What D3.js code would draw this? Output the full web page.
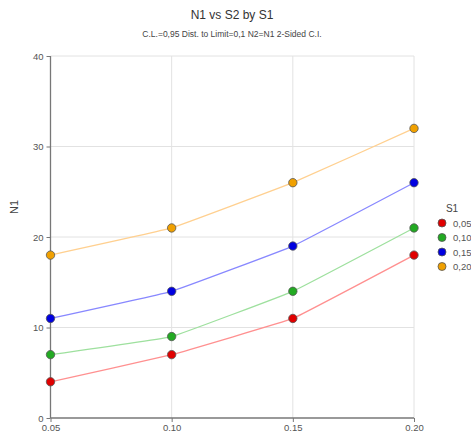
<!DOCTYPE html>
<html><head><meta charset="utf-8">
<script src="https://cdn.jsdelivr.net/npm/d3@7"></script>
<style>body{margin:0;background:#fff}svg{display:block;font-family:"Liberation Sans",Arial,sans-serif}</style>
</head><body>
<svg id="c" width="471" height="434"></svg>
<script>
const xValues = [0.05, 0.10, 0.15, 0.20];
const seriesNames = ["0,05", "0,10", "0,15", "0,20"];
const s005 = [4, 7, 11, 18];
const s010 = [7, 9, 14, 21];
const s015 = [11, 14, 19, 26];
const s020 = [18, 21, 26, 32];
const xTicks = ["0.05", "0.10", "0.15", "0.20"];
const yTicks = [0, 10, 20, 30, 40];
const lineColors = ["#ff9090", "#9ee09e", "#8888ff", "#ffd090"];
const dotColors = ["#e00000", "#22aa22", "#0000e0", "#f0a000"];

const series = [s005, s010, s015, s020];
const svg = d3.select("#c");
const m = {l: 50.5, r: 414, t: 56, b: 418};
const x = d3.scaleLinear().domain([0.05, 0.20]).range([m.l, m.r]);
const y = d3.scaleLinear().domain([0, 40]).range([m.b, m.t]);

// grid
svg.append("g").selectAll("line").data(yTicks.slice(1)).join("line")
  .attr("x1", m.l).attr("x2", m.r).attr("y1", d => y(d)).attr("y2", d => y(d))
  .attr("stroke", "#e2e2e2").attr("stroke-width", 1);
svg.append("g").selectAll("line").data(xValues.slice(1)).join("line")
  .attr("y1", m.t).attr("y2", m.b).attr("x1", d => x(d)).attr("x2", d => x(d))
  .attr("stroke", "#e2e2e2").attr("stroke-width", 1);

// axes
const ya = svg.append("g").attr("transform", `translate(${m.l},0)`)
  .call(d3.axisLeft(y).tickValues(yTicks).tickSize(4).tickPadding(3).tickFormat(d3.format("d")));
const xa = svg.append("g").attr("transform", `translate(0,${m.b})`)
  .call(d3.axisBottom(x).tickValues(xValues).tickSize(4).tickPadding(2).tickFormat((d, i) => xTicks[i]));
[ya, xa].forEach(a => {
  a.select(".domain").attr("stroke", "#777").attr("stroke-width", 1.3);
  a.selectAll(".tick line").attr("stroke", "#777");
  a.selectAll("text").attr("fill", "#555").attr("font-size", 9.5);
});
ya.select(".domain").attr("d", `M0,${m.t}V${m.b}`);
xa.select(".domain").attr("d", `M${m.l},0H${m.r}`);

// lines
const line = d3.line().x((d, i) => x(xValues[i])).y(d => y(d)).curve(d3.curveCardinal.tension(0.8));
series.forEach((s, k) => {
  svg.append("path").datum(s).attr("d", line).attr("fill", "none")
    .attr("stroke", lineColors[k]).attr("stroke-width", 1.3);
});
series.forEach((s, k) => {
  svg.append("g").selectAll("circle").data(s).join("circle")
    .attr("cx", (d, i) => x(xValues[i])).attr("cy", d => y(d)).attr("r", 4.2)
    .attr("fill", dotColors[k]).attr("stroke", "#555").attr("stroke-width", 0.8);
});

// titles
svg.append("text").attr("x", 232).attr("y", 19).attr("text-anchor", "middle")
  .attr("font-size", 12).attr("fill", "#333").text("N1 vs S2 by S1");
svg.append("text").attr("x", 232).attr("y", 37).attr("text-anchor", "middle")
  .attr("font-size", 8.5).attr("fill", "#444").text("C.L.=0,95 Dist. to Limit=0,1 N2=N1 2-Sided C.I.");
svg.append("text").attr("transform", "translate(18,207) rotate(-90)").attr("text-anchor", "middle")
  .attr("font-size", 11).attr("fill", "#444").text("N1");

// legend
svg.append("text").attr("x", 452).attr("y", 212).attr("text-anchor", "middle")
  .attr("font-size", 10).attr("fill", "#444").text("S1");
const lg = svg.append("g").selectAll("g").data(seriesNames).join("g")
  .attr("transform", (d, i) => `translate(442,${223 + i * 14.5})`);
lg.append("circle").attr("r", 4).attr("fill", (d, i) => dotColors[i]).attr("stroke", "#555").attr("stroke-width", 0.8);
lg.append("text").attr("x", 11).attr("y", 3.5).attr("font-size", 9.5).attr("fill", "#555").text(d => d);
</script>
</body></html>
